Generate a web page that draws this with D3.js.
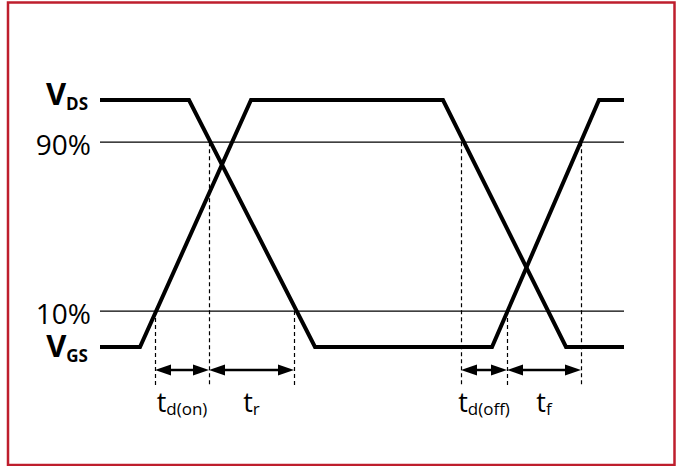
<!DOCTYPE html>
<html><head><meta charset="utf-8">
<script src="https://cdn.jsdelivr.net/npm/d3@7"></script>
<style>
html,body{margin:0;padding:0;background:#fff;}
svg{display:block;}
text{font-family:"Open Sans",sans-serif;fill:#000;}
</style></head>
<body>
<svg id="chart" width="680" height="466"></svg>
<script>
// ---- data ----
const vdsTimes  = [0, 89, 215, 392, 499, 524];
const vdsLevels = [110, 110, -7, -7, 110, 110];
const vgsTimes  = [0, 40, 151, 343, 466, 524];
const vgsLevels = [-7, -7, 110, 110, -7, -7];
const refLabels = ["90%", "10%"];
const refLevels = [90, 10];
const markerTimes  = [55, 109, 194, 361, 407, 481];
const markerLevels = [10, 90, 10, 90, 10, 90];
const intervalStarts = [55, 109, 361, 407];
const intervalEnds   = [109, 194, 407, 481];
const intervalSubs   = ["d(on)", "r", "d(off)", "f"];
const signalNames = ["V", "V"];
const signalSubs  = ["DS", "GS"];
const signalLevels = [110, -7];

// ---- scales ----
const x = d3.scaleLinear().domain([0, 524]).range([100, 624]);
const y = d3.scaleLinear().domain([-7, 110]).range([347, 100]);
const svg = d3.select("#chart");

// border
svg.append("rect").attr("x", 8).attr("y", 2.5).attr("width", 666.5).attr("height", 462.5)
  .attr("fill", "none").attr("stroke", "#be1e2d").attr("stroke-width", 2.5);

// reference lines
svg.selectAll("line.ref").data(refLevels).join("line").attr("class", "ref")
  .attr("x1", x(0)).attr("x2", x(524)).attr("y1", d => y(d)).attr("y2", d => y(d))
  .attr("stroke", "#000").attr("stroke-width", 1.3);

svg.selectAll("text.ref").data(refLabels).join("text").attr("class", "ref")
  .attr("x", 91).attr("y", (d, i) => y(refLevels[i]) + 12.5)
  .attr("text-anchor", "end").attr("font-size", 28).text(d => d);

// dashed markers
svg.selectAll("line.mk").data(markerTimes).join("line").attr("class", "mk")
  .attr("x1", d => x(d) + 0.5).attr("x2", d => x(d) + 0.5)
  .attr("y1", (d, i) => y(markerLevels[i])).attr("y2", 386)
  .attr("stroke", "#000").attr("stroke-width", 1.2).attr("stroke-dasharray", "4,3");

// waveforms
const line = d3.line().x(d => x(d[0])).y(d => y(d[1]));
[[vdsTimes, vdsLevels], [vgsTimes, vgsLevels]].forEach(([t, v]) => {
  svg.append("path").attr("d", line(t.map((d, i) => [d, v[i]])))
    .attr("fill", "none").attr("stroke", "#000").attr("stroke-width", 4)
    .attr("stroke-linejoin", "miter");
});

// signal labels
signalNames.forEach((n, i) => {
  const t = svg.append("text").attr("x", 88).attr("y", y(signalLevels[i]) + (i === 0 ? 5 : 10))
    .attr("text-anchor", "end").attr("font-weight", "bold");
  t.append("tspan").attr("font-size", 31).text(n);
  t.append("tspan").attr("font-size", 17).attr("dy", 5).text(signalSubs[i]);
});

// interval arrows
const ay = 370, hl = 16, hh = 5.5;
intervalStarts.forEach((s, i) => {
  const x0 = x(s), x1 = x(intervalEnds[i]);
  const g = svg.append("g");
  g.append("line").attr("x1", x0 + hl - 2).attr("x2", x1 - hl + 2).attr("y1", ay).attr("y2", ay)
    .attr("stroke", "#000").attr("stroke-width", 2.5);
  g.append("path").attr("d", `M${x0},${ay}L${x0 + hl},${ay - hh}L${x0 + hl},${ay + hh}Z`).attr("fill", "#000");
  g.append("path").attr("d", `M${x1},${ay}L${x1 - hl},${ay - hh}L${x1 - hl},${ay + hh}Z`).attr("fill", "#000");
  const t = g.append("text").attr("x", (x0 + x1) / 2).attr("y", 412).attr("text-anchor", "middle");
  t.append("tspan").attr("font-size", 27).text("t");
  t.append("tspan").attr("font-size", 17).attr("dy", 3).text(intervalSubs[i]);
});
</script>
</body></html>
